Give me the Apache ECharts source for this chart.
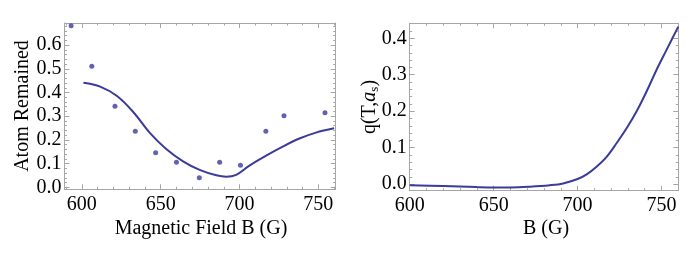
<!DOCTYPE html>
<html><head><meta charset="utf-8">
<script src="https://cdn.jsdelivr.net/npm/echarts@6/dist/echarts.min.js"></script>
<style>html,body{margin:0;padding:0;background:#fff}#c{width:692px;height:262px}</style>
</head><body><div id="c"></div>
<script>
// Left panel: measured atom fraction vs magnetic field
const pointB = [593.2, 606.3, 621.0, 633.9, 646.8, 660.0, 674.5, 687.4, 700.6, 716.7, 728.2, 754.2];
const pointV = [0.681, 0.511, 0.342, 0.237, 0.146, 0.106, 0.041, 0.106, 0.093, 0.237, 0.302, 0.315];
// Left panel: fitted curve
const fitB = [601, 611.6, 622.1, 632.6, 643.1, 653.7, 664.2, 674.7, 685.3, 691.6, 697.9, 706.3, 716.9, 727.4, 738, 748.5, 760];
const fitV = [0.441, 0.425, 0.386, 0.318, 0.230, 0.161, 0.110, 0.074, 0.051, 0.045, 0.053, 0.092, 0.134, 0.172, 0.206, 0.231, 0.249];
// Right panel: q(T, a_s) vs B
const qB = [600, 620, 640, 650, 660, 671.6, 683.5, 691.4, 700, 705.4, 711.3, 717.3, 723.2, 729.2, 735.1, 741.1, 747, 753, 760];
const qV = [-0.003, -0.005, -0.008, -0.009, -0.009, -0.007, -0.003, 0.002, 0.014, 0.027, 0.048, 0.075, 0.112, 0.153, 0.199, 0.254, 0.313, 0.368, 0.432];
// Tick values
const xMajor = [600, 650, 700, 750];
const xMinorLeft = [590, 610, 620, 630, 640, 660, 670, 680, 690, 710, 720, 730, 740, 760];
const xMinorRight = [610, 620, 630, 640, 660, 670, 680, 690, 710, 720, 730, 740, 760];
const yMajorLeft = [0, 0.1, 0.2, 0.3, 0.4, 0.5, 0.6];
const yMajorRight = [0, 0.1, 0.2, 0.3, 0.4];
const yMinorLeft = [0.02,0.04,0.06,0.08,0.12,0.14,0.16,0.18,0.22,0.24,0.26,0.28,0.32,0.34,0.36,0.38,0.42,0.44,0.46,0.48,0.52,0.54,0.56,0.58,0.62,0.64,0.66,0.68];
const yMinorRight = [0.02,0.04,0.06,0.08,0.12,0.14,0.16,0.18,0.22,0.24,0.26,0.28,0.32,0.34,0.36,0.38,0.42,0.44];

const FONT = 'Liberation Serif';
const FRAME = '#a6a6a6';
const BLUE = '#3b3b9c';

function mkX(grid, pos, min, max, ticks, len, labels, line) {
  return {
    type: 'value', gridIndex: grid, position: pos, min: min, max: max,
    axisLine: {show: line, onZero: false, lineStyle: {color: FRAME, width: 1}},
    axisTick: {show: true, inside: true, length: len, customValues: ticks, lineStyle: {color: FRAME, width: 1}},
    axisLabel: labels ? {show: true, customValues: ticks, margin: 5, color: '#000', fontFamily: FONT, fontSize: 20, formatter: v => String(Math.round(v))} : {show: false},
    splitLine: {show: false}
  };
}
function mkY(grid, pos, min, max, ticks, len, labels, line) {
  return {
    type: 'value', gridIndex: grid, position: pos, min: min, max: max,
    axisLine: {show: line, onZero: false, lineStyle: {color: FRAME, width: 1}},
    axisTick: {show: true, inside: true, length: len, customValues: ticks, lineStyle: {color: FRAME, width: 1}},
    axisLabel: labels ? {show: true, customValues: ticks, margin: 3, color: '#000', fontFamily: FONT, fontSize: 20, formatter: v => v.toFixed(1)} : {show: false},
    splitLine: {show: false}
  };
}

const LX0 = 589, LX1 = 761, LY0 = -0.008, LY1 = 0.693;
const RX0 = 600, RX1 = 760, RY0 = -0.018, RY1 = 0.441;

const option = {
  animation: false,
  backgroundColor: '#fff',
  grid: [
    {left: 64.5, top: 23, width: 271.2, height: 166.3},
    {left: 409.7, top: 23.3, width: 268.6, height: 167.4}
  ],
  xAxis: [
    mkX(0, 'bottom', LX0, LX1, xMajor, 5, true, true),
    mkX(0, 'bottom', LX0, LX1, xMinorLeft, 2.5, false, false),
    mkX(0, 'top', LX0, LX1, xMajor, 5, false, true),
    mkX(0, 'top', LX0, LX1, xMinorLeft, 2.5, false, false),
    mkX(1, 'bottom', RX0, RX1, xMajor, 5, true, true),
    mkX(1, 'bottom', RX0, RX1, xMinorRight, 2.5, false, false),
    mkX(1, 'top', RX0, RX1, xMajor, 5, false, true),
    mkX(1, 'top', RX0, RX1, xMinorRight, 2.5, false, false)
  ],
  yAxis: [
    mkY(0, 'left', LY0, LY1, yMajorLeft, 5, true, true),
    mkY(0, 'left', LY0, LY1, yMinorLeft, 2.5, false, false),
    mkY(0, 'right', LY0, LY1, yMajorLeft, 5, false, true),
    mkY(0, 'right', LY0, LY1, yMinorLeft, 2.5, false, false),
    mkY(1, 'left', RY0, RY1, yMajorRight, 5, true, true),
    mkY(1, 'left', RY0, RY1, yMinorRight, 2.5, false, false),
    mkY(1, 'right', RY0, RY1, yMajorRight, 5, false, true),
    mkY(1, 'right', RY0, RY1, yMinorRight, 2.5, false, false)
  ],
  series: [
    {type: 'line', xAxisIndex: 0, yAxisIndex: 0, data: fitB.map((b, i) => [b, fitV[i]]), smooth: 0.35, showSymbol: false, lineStyle: {color: BLUE, width: 2}, z: 2},
    {type: 'scatter', xAxisIndex: 0, yAxisIndex: 0, data: pointB.map((b, i) => [b, pointV[i]]), symbol: 'circle', symbolSize: 5, itemStyle: {color: BLUE}, z: 3},
    {type: 'line', xAxisIndex: 4, yAxisIndex: 4, data: qB.map((b, i) => [b, qV[i]]), smooth: 0.35, showSymbol: false, lineStyle: {color: BLUE, width: 2}, z: 2}
  ],
  graphic: [
    {type: 'text', x: 201, y: 229, style: {text: 'Magnetic Field B (G)', fontFamily: FONT, fontSize: 20, fill: '#000', align: 'center', verticalAlign: 'middle'}},
    {type: 'text', x: 546, y: 229, style: {text: 'B (G)', fontFamily: FONT, fontSize: 20, fill: '#000', align: 'center', verticalAlign: 'middle'}},
    {type: 'text', x: 23, y: 106, rotation: Math.PI / 2, style: {text: 'Atom Remained', fontFamily: FONT, fontSize: 20, fill: '#000', align: 'center', verticalAlign: 'middle'}},
    {type: 'text', x: 370, y: 107, rotation: Math.PI / 2, style: {
      text: '{n|q(T,}{i|a}{s|s}{n|)}', align: 'center', verticalAlign: 'middle',
      rich: {
        n: {fontFamily: FONT, fontSize: 20, fill: '#000'},
        i: {fontFamily: FONT, fontSize: 20, fontStyle: 'italic', fill: '#000'},
        s: {fontFamily: FONT, fontSize: 13, fill: '#000', padding: [9, 0, 0, 0]}
      }
    }}
  ]
};
echarts.init(document.getElementById('c'), null, {renderer: 'canvas'}).setOption(option);
</script></body></html>
